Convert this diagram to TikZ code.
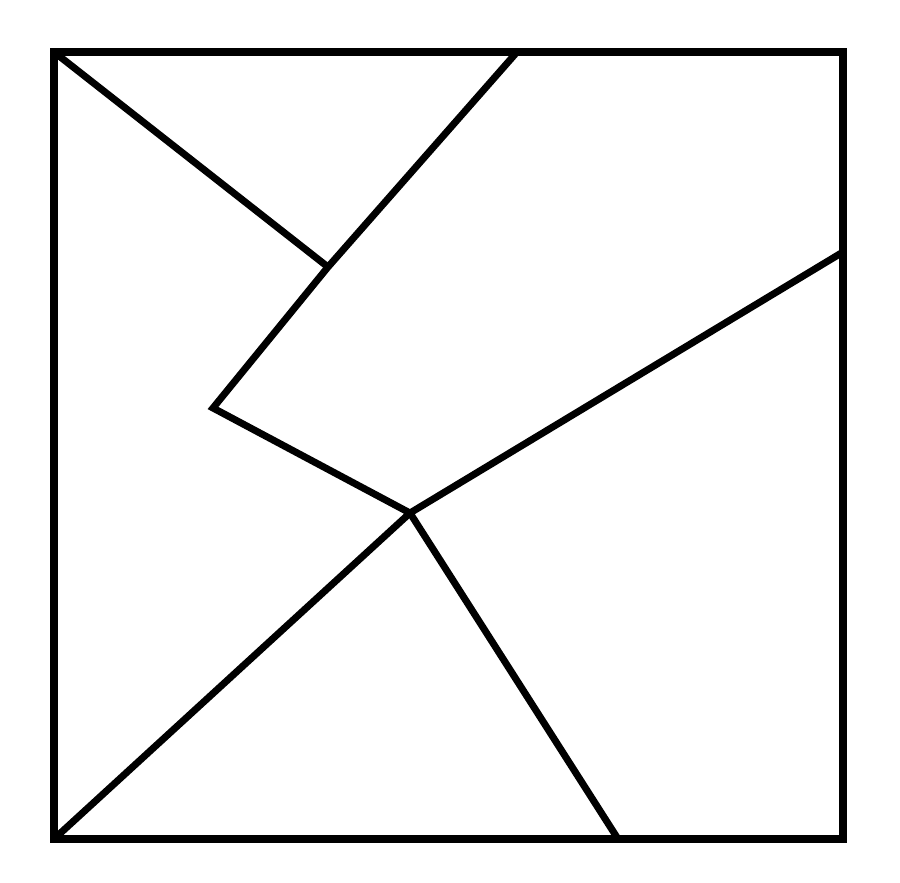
\documentclass[tikz,border=0pt]{standalone}
\begin{document}
\begin{tikzpicture}[x=1pt,y=-1pt,
  frame/.style={line width=8.5pt,line join=miter},
  cut/.style={line width=7pt,line join=miter}]
\useasboundingbox (0,0) rectangle (900,883);
\coordinate (tl) at (54,52);
\coordinate (tr) at (843,52);
\coordinate (br) at (843,839);
\coordinate (bl) at (54,839);
\coordinate (top) at (517,52);
\coordinate (tj) at (328,267);
\coordinate (kink) at (213,408);
\coordinate (c) at (410,513);
\coordinate (rs) at (843,252);
\coordinate (bot) at (618,839);
\draw[frame] (tl) -- (tr) -- (br) -- (bl) -- cycle;
\draw[cut] (tl) -- (tj);
\draw[cut] (top) -- (tj) -- (kink) -- (c) -- (rs);
\draw[cut] (c) -- (bl);
\draw[cut] (c) -- (bot);
\end{tikzpicture}
\end{document}
